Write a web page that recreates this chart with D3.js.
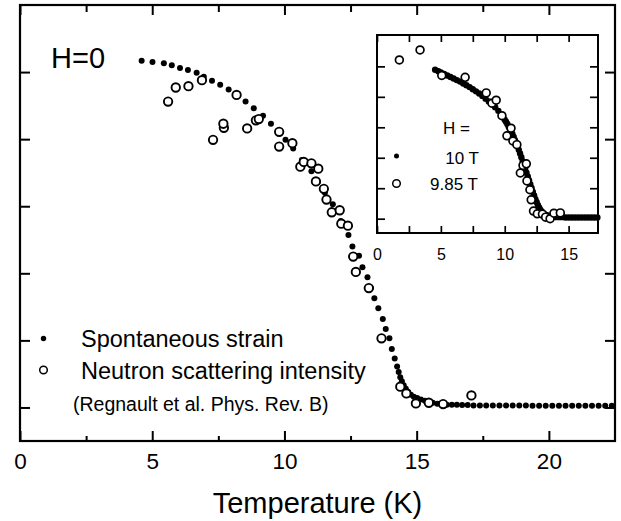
<!DOCTYPE html>
<html>
<head>
<meta charset="utf-8">
<script src="https://cdn.jsdelivr.net/npm/d3@7"></script>
<style>
  html, body { margin: 0; padding: 0; background: #fff; }
  svg text { font-family: "Liberation Sans", Arial, Helvetica, sans-serif; fill: #000; }
</style>
</head>
<body>
<svg id="chart" width="621" height="521"></svg>
<script>
// Spontaneous strain at H = 0: [temperature (K), strain (arb. units)]
const spontaneousStrain = [
  [4.60,5.17],[5.01,5.15],[5.44,5.13],[5.74,5.10],[6.05,5.06],[6.35,5.03],[6.68,4.99],
  [6.95,4.93],[7.26,4.87],[7.57,4.81],[7.89,4.74],[8.20,4.66],[8.53,4.56],[8.84,4.46],
  [9.19,4.35],[9.49,4.23],[9.77,4.11],[10.04,3.99],[10.33,3.86],[10.66,3.69],[11.02,3.52],
  [11.26,3.36],[11.53,3.20],[11.83,3.03],[12.13,2.78],[12.42,2.57],[12.57,2.40],[12.82,2.26],
  [12.95,2.09],[13.14,1.94],[13.27,1.78],[13.40,1.63],[13.55,1.48],[13.72,1.32],[13.83,1.17],
  [13.97,1.03],[14.06,0.87],[14.17,0.73],[14.26,0.61],[14.32,0.53],[14.38,0.45],[14.44,0.39],
  [14.51,0.33],[14.59,0.28],[14.68,0.23],[14.78,0.19],[14.89,0.16],[15.02,0.14],[15.16,0.12],
  [15.31,0.10],[15.46,0.08],[15.61,0.07],[15.78,0.055],[15.95,0.048],[16.14,0.04],[16.33,0.04],
  [16.52,0.04],[16.72,0.035],[16.93,0.035],[17.15,0.03],[17.39,0.03],[17.63,0.03],[17.88,0.03],
  [18.13,0.03],[18.38,0.03],[18.63,0.03],[18.88,0.03],[19.13,0.03],[19.38,0.025],[19.63,0.025],
  [19.88,0.025],[20.13,0.025],[20.38,0.025],[20.63,0.025],[20.88,0.025],[21.13,0.025],
  [21.38,0.025],[21.63,0.025],[21.88,0.025],[22.13,0.025],[22.38,0.025]
];

// Neutron scattering intensity at H = 0 (Regnault et al.)
const neutronIntensity = [
  [5.60,4.56],[5.89,4.77],[6.37,4.79],[6.88,4.88],[7.30,3.99],[7.71,4.17],[7.69,4.23],
  [8.19,4.66],[8.59,4.16],[8.92,4.28],[9.03,4.30],[9.80,4.11],[9.80,3.89],[10.30,3.94],
  [10.60,3.59],[10.73,3.66],[11.02,3.64],[11.28,3.56],[11.19,3.37],[11.49,3.26],[11.59,3.10],
  [11.79,2.91],[12.09,2.94],[12.15,2.74],[12.40,2.71],[12.60,2.25],[12.70,2.02],[13.19,1.78],
  [13.67,1.03],[14.38,0.31],[14.61,0.21],[14.97,0.06],[15.46,0.07],[16.00,0.05],[17.07,0.18]
];

// Strain at H = 10 T
const strain10T = [
  [4.55,4.89],[4.80,4.84],[5.00,4.80],[5.25,4.75],[5.50,4.70],[5.75,4.65],[6.00,4.60],
  [6.25,4.55],[6.50,4.50],[6.75,4.44],[7.00,4.38],[7.25,4.32],[7.50,4.25],[7.75,4.18],
  [8.00,4.11],[8.25,4.03],[8.50,3.94],[8.75,3.85],[9.00,3.76],[9.25,3.66],[9.50,3.54],
  [9.75,3.40],[10.00,3.25],[10.10,3.18],[10.20,3.11],[10.30,3.03],[10.40,2.95],[10.50,2.87],
  [10.60,2.78],[10.70,2.68],[10.80,2.58],[10.90,2.48],[11.00,2.38],[11.10,2.26],[11.20,2.14],
  [11.30,2.02],[11.40,1.89],[11.50,1.77],[11.60,1.64],[11.70,1.51],[11.80,1.39],[11.90,1.26],
  [12.00,1.13],[12.10,1.01],[12.20,0.88],[12.30,0.76],[12.40,0.64],[12.50,0.54],[12.60,0.44],
  [12.70,0.36],[12.80,0.29],[12.90,0.23],[13.00,0.18],[13.10,0.15],[13.25,0.12],[13.40,0.10],
  [13.60,0.08],[13.80,0.06],[14.00,0.05],[14.25,0.05],[14.50,0.05],[14.75,0.04],[15.00,0.04],
  [15.25,0.04],[15.50,0.04],[15.75,0.04],[16.00,0.04],[16.25,0.04],[16.50,0.04],[16.75,0.04],
  [17.00,0.04],[17.25,0.04]
];

// Neutron intensity at H = 9.85 T
const neutron985T = [
  [1.75,5.21],[3.37,5.54],[5.07,4.70],[6.90,4.64],[8.55,4.13],[9.00,3.79],[9.33,3.89],
  [9.78,3.38],[10.17,2.72],[10.49,2.97],[10.64,2.55],[10.95,2.43],[11.22,1.50],[11.43,1.75],
  [11.69,1.80],[11.74,1.24],[11.97,0.95],[12.07,0.62],[12.25,0.25],[12.55,0.16],[12.95,0.15],
  [13.20,0.05],[13.55,0.00],[13.85,0.18],[14.35,0.19]
];

const mainMajorX = [0, 5, 10, 15, 20];
const mainMinorX = [2.5, 7.5, 12.5, 17.5];
const mainTicksY = [0, 1, 2, 3, 4, 5];
const insetTicksX = [0, 2.5, 5, 7.5, 10, 12.5, 15];
const insetLabelsX = [0, 5, 10, 15];
const insetTicksY = [0, 1, 2, 3, 4, 5];

const svg = d3.select("#chart");

// ---- main panel ----
const M = { left: 20, right: 615, top: 5, bottom: 441 };
const x = d3.scaleLinear().domain([0, 22.5]).range([M.left, M.right]);
const y = d3.scaleLinear().domain([-0.5, 6.0]).range([M.bottom, M.top]);

function styleAxis(g, width) {
  g.select(".domain").remove();
  g.selectAll(".tick line").attr("stroke", "#000").attr("stroke-width", width);
}

svg.append("g").attr("transform", `translate(0,${M.bottom})`)
  .call(d3.axisBottom(x).tickValues(mainMajorX).tickSize(-10).tickPadding(12).tickFormat(d3.format("d")))
  .call(g => styleAxis(g, 2))
  .call(g => g.selectAll("text").attr("font-size", 22.5).attr("font-family", null));
svg.append("g").attr("transform", `translate(0,${M.bottom})`)
  .call(d3.axisBottom(x).tickValues(mainMinorX).tickSize(-5).tickFormat(""))
  .call(g => styleAxis(g, 2));
svg.append("g").attr("transform", `translate(0,${M.top})`)
  .call(d3.axisTop(x).tickValues(mainMajorX).tickSize(-10).tickFormat(""))
  .call(g => styleAxis(g, 2));
svg.append("g").attr("transform", `translate(0,${M.top})`)
  .call(d3.axisTop(x).tickValues(mainMinorX).tickSize(-7).tickFormat(""))
  .call(g => styleAxis(g, 2));
svg.append("g").attr("transform", `translate(${M.left},0)`)
  .call(d3.axisLeft(y).tickValues(mainTicksY).tickSize(-10).tickFormat(""))
  .call(g => styleAxis(g, 2));
svg.append("g").attr("transform", `translate(${M.right},0)`)
  .call(d3.axisRight(y).tickValues(mainTicksY).tickSize(-10).tickFormat(""))
  .call(g => styleAxis(g, 2));

svg.append("rect")
  .attr("x", M.left).attr("y", M.top)
  .attr("width", M.right - M.left).attr("height", M.bottom - M.top)
  .attr("fill", "none").attr("stroke", "#000").attr("stroke-width", 2.2);

svg.append("text").attr("x", (M.left + M.right) / 2).attr("y", 513)
  .attr("text-anchor", "middle").attr("font-size", 29).text("Temperature (K)");

svg.append("text").attr("x", 51).attr("y", 68).attr("font-size", 29).text("H=0");

// main data: strain dots, then open circles on top
svg.append("g").selectAll("circle").data(spontaneousStrain).join("circle")
  .attr("cx", d => x(d[0])).attr("cy", d => y(d[1])).attr("r", 3).attr("fill", "#000");
svg.append("g").selectAll("circle").data(neutronIntensity).join("circle")
  .attr("cx", d => x(d[0])).attr("cy", d => y(d[1])).attr("r", 4.2)
  .attr("fill", "#fff").attr("stroke", "#000").attr("stroke-width", 1.9);

// legend
svg.append("circle").attr("cx", 43.5).attr("cy", 338.5).attr("r", 2.7).attr("fill", "#000");
svg.append("circle").attr("cx", 43.5).attr("cy", 370).attr("r", 3.8)
  .attr("fill", "#fff").attr("stroke", "#000").attr("stroke-width", 1.5);
svg.append("text").attr("x", 81).attr("y", 346.5).attr("font-size", 23.5).text("Spontaneous strain");
svg.append("text").attr("x", 81).attr("y", 378.5).attr("font-size", 23.5).text("Neutron scattering intensity");
svg.append("text").attr("x", 73).attr("y", 410.5).attr("font-size", 19.5).text("(Regnault et al. Phys. Rev. B)");

// ---- inset panel ----
const I = { left: 377, right: 598, top: 35, bottom: 233 };
const ix = d3.scaleLinear().domain([0, 17.3]).range([I.left, I.right]);
const iy = d3.scaleLinear().domain([-0.47, 6.03]).range([I.bottom, I.top]);

svg.append("rect")
  .attr("x", I.left).attr("y", I.top)
  .attr("width", I.right - I.left).attr("height", I.bottom - I.top)
  .attr("fill", "#fff");

svg.append("g").attr("transform", `translate(0,${I.bottom})`)
  .call(d3.axisBottom(ix).tickValues(insetTicksX).tickSize(-7).tickPadding(15.5)
    .tickFormat(d => insetLabelsX.includes(d) ? d3.format("d")(d) : ""))
  .call(g => styleAxis(g, 1.7))
  .call(g => g.selectAll("text").attr("font-size", 16).attr("font-family", null));
svg.append("g").attr("transform", `translate(0,${I.top})`)
  .call(d3.axisTop(ix).tickValues(insetTicksX).tickSize(-7).tickFormat(""))
  .call(g => styleAxis(g, 1.7));
svg.append("g").attr("transform", `translate(${I.left},0)`)
  .call(d3.axisLeft(iy).tickValues(insetTicksY).tickSize(-8).tickFormat(""))
  .call(g => styleAxis(g, 1.7));
svg.append("g").attr("transform", `translate(${I.right},0)`)
  .call(d3.axisRight(iy).tickValues(insetTicksY).tickSize(-8).tickFormat(""))
  .call(g => styleAxis(g, 1.7));

svg.append("rect")
  .attr("x", I.left).attr("y", I.top)
  .attr("width", I.right - I.left).attr("height", I.bottom - I.top)
  .attr("fill", "none").attr("stroke", "#000").attr("stroke-width", 2);

const insetData = svg.append("g");
insetData.append("g").selectAll("circle").data(strain10T).join("circle")
  .attr("cx", d => ix(d[0])).attr("cy", d => iy(d[1])).attr("r", 3.2).attr("fill", "#000");
insetData.append("g").selectAll("circle").data(neutron985T).join("circle")
  .attr("cx", d => ix(d[0])).attr("cy", d => iy(d[1])).attr("r", 3.9)
  .attr("fill", "#fff").attr("stroke", "#000").attr("stroke-width", 1.7);

// inset legend
svg.append("text").attr("x", 443).attr("y", 133.5).attr("font-size", 17).text("H =");
svg.append("circle").attr("cx", 396.5).attr("cy", 156).attr("r", 2.5).attr("fill", "#000");
svg.append("text").attr("x", 479).attr("y", 163.5).attr("text-anchor", "end").attr("font-size", 17).text("10 T");
svg.append("circle").attr("cx", 396.5).attr("cy", 183.5).attr("r", 3.8)
  .attr("fill", "#fff").attr("stroke", "#000").attr("stroke-width", 1.5);
svg.append("text").attr("x", 478).attr("y", 189.5).attr("text-anchor", "end").attr("font-size", 17).text("9.85 T");
</script>
</body>
</html>
